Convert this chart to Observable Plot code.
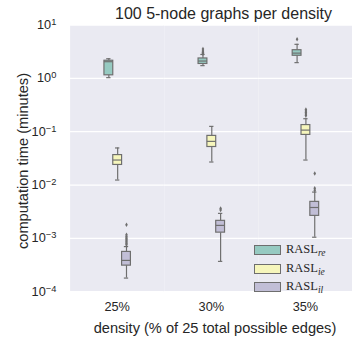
<!DOCTYPE html>
<html><head><meta charset="utf-8">
<script src="https://cdn.jsdelivr.net/npm/d3@7"></script>
<script src="https://cdn.jsdelivr.net/npm/@observablehq/plot@0.6"></script>
<style>
body{margin:0;background:#fff;}
#wrap{position:relative;width:352px;height:339px;overflow:hidden;font-family:"Liberation Sans",Arial,sans-serif;color:#262626;}
#wrap svg{display:block;}
.title{position:absolute;left:115px;width:200px;top:6px;text-align:center;font-size:16px;line-height:1;white-space:nowrap;}
.xlab{position:absolute;left:15px;width:400px;top:321px;text-align:center;font-size:14.6px;line-height:1;white-space:nowrap;}
.ylab{position:absolute;left:-177px;width:400px;top:153px;text-align:center;font-size:14.6px;line-height:16px;white-space:nowrap;transform:rotate(-90deg);}
.legend{position:absolute;left:254px;top:241px;}
.row{height:18.5px;display:flex;align-items:center;}
.sw{width:25px;height:8px;border:1px solid #6e6e6e;margin-right:5px;}
.lt{font-family:"Liberation Serif","Times New Roman",serif;font-size:12.5px;}
.lt sub{font-style:italic;font-size:9.5px;vertical-align:-3px;}
</style></head><body><div id="wrap"></div><script>
// categories
const densities = ["25%", "30%", "35%"];
const seriesKeys = ["re", "ie", "il"];
const seriesColors = ["#96cac1", "#f6f6bc", "#c1bed6"];
// five-number summaries per density: [whisker low, Q1, median, Q3, whisker high] (minutes)
const reStats = [[1.03, 1.14, 2.05, 2.14, 2.33], [1.73, 1.86, 2.11, 2.36, 2.8], [1.97, 2.65, 2.97, 3.37, 4.34]];
const ieStats = [[0.0124, 0.0238, 0.0294, 0.0364, 0.0495], [0.027, 0.0516, 0.0658, 0.0834, 0.1257], [0.0294, 0.087, 0.107, 0.133, 0.175]];
const ilStats = [[1.8e-4, 3.08e-4, 3.86e-4, 5.57e-4, 7.0e-4], [3.7e-4, 1.28e-3, 1.75e-3, 2.13e-3, 2.94e-3], [1.05e-3, 2.64e-3, 3.79e-3, 4.83e-3, 7.37e-3]];
// outliers per density
const reOut = [[], [2.9, 3.0, 3.1, 3.27, 3.56], [5.4]];
const ieOut = [[], [], [0.2, 0.215, 0.23, 0.245, 0.26]];
const ilOut = [[7.6e-4, 8.0e-4, 8.5e-4, 9.0e-4, 9.6e-4, 1.02e-3, 1.08e-3, 1.17e-3, 1.8e-3], [3.4e-3, 3.64e-3], [8.0e-3, 8.7e-3, 0.0165]];
// y tick values
const yTicks = [1e-4, 1e-3, 1e-2, 1e-1, 1, 10];

const statsBy = {re: reStats, ie: ieStats, il: ilStats};
const outBy = {re: reOut, ie: ieOut, il: ilOut};
const stats = [], outliers = [];
densities.forEach((d, i) => seriesKeys.forEach(s => {
  const a = statsBy[s][i];
  stats.push({density: d, series: s, lo: a[0], q1: a[1], med: a[2], q3: a[3], hi: a[4]});
  outBy[s][i].forEach(v => outliers.push({density: d, series: s, value: v}));
}));

const fmt = v => "10^" + Math.round(Math.log10(v));
const gray = "#6e6e6e";

const chart = Plot.plot({
  width: 359, height: 339,
  marginLeft: 71, marginRight: 0, marginTop: 25, marginBottom: 42,
  style: {fontFamily: "Liberation Sans, Arial, sans-serif", fontSize: "13px", color: "#262626", background: "white"},
  facet: {marginTop: 0, marginRight: 0, marginBottom: 0, marginLeft: 0},
  fx: {domain: densities, padding: 0, axis: "bottom", tickSize: 0, tickPadding: 10, label: null},
  x: {domain: seriesKeys, axis: null, paddingInner: 0.03, paddingOuter: 3.465},
  y: {type: "log", domain: [1e-4, 10], ticks: yTicks, tickFormat: fmt, tickSize: 0, tickPadding: 14, label: null},
  color: {domain: seriesKeys, range: seriesColors},
  marks: [
    Plot.frame({fill: "#eaeaf2", stroke: "none"}),
    Plot.ruleY(yTicks, {stroke: "white", strokeWidth: 1.3}),
    Plot.ruleX(stats, {fx: "density", x: "series", y1: "lo", y2: "q1", stroke: gray, strokeWidth: 1.2}),
    Plot.ruleX(stats, {fx: "density", x: "series", y1: "q3", y2: "hi", stroke: gray, strokeWidth: 1.2}),
    Plot.tickY(stats, {fx: "density", x: "series", y: "lo", stroke: gray, strokeWidth: 1.2, insetLeft: 2.3, insetRight: 2.3}),
    Plot.tickY(stats, {fx: "density", x: "series", y: "hi", stroke: gray, strokeWidth: 1.2, insetLeft: 2.3, insetRight: 2.3}),
    Plot.barY(stats, {fx: "density", x: "series", y1: "q1", y2: "q3", fill: "series", stroke: gray, strokeWidth: 1.2}),
    Plot.tickY(stats, {fx: "density", x: "series", y: "med", stroke: gray, strokeWidth: 1.2}),
    Plot.dot(outliers, {fx: "density", x: "series", y: "value", symbol: "diamond", r: 1.4, fill: gray, stroke: "none"})
  ]
});

// render "10^k" tick labels as 10 with a superscript exponent
const NS = "http://www.w3.org/2000/svg";
chart.querySelectorAll("text").forEach(t => {
  const s = t.textContent;
  if (!/^10\^-?\d$/.test(s)) return;
  const exp = s.split("^")[1].replace("-", "\u2212");
  t.textContent = "";
  const base = document.createElementNS(NS, "tspan");
  base.textContent = "10";
  const sp = document.createElementNS(NS, "tspan");
  sp.textContent = exp;
  sp.setAttribute("dy", "-0.45em");
  sp.setAttribute("font-size", "9.5px");
  t.appendChild(base); t.appendChild(sp);
});

const wrap = document.getElementById("wrap");
wrap.appendChild(chart);
const add = (cls, html) => { const e = document.createElement("div"); e.className = cls; e.innerHTML = html; wrap.appendChild(e); return e; };
add("title", "100 5-node graphs per density");
add("xlab", "density (% of 25 total possible edges)");
add("ylab", "computation time (minutes)");
const lg = add("legend", "");
seriesKeys.forEach((s, i) => {
  const r = document.createElement("div"); r.className = "row";
  r.innerHTML = `<span class="sw" style="background:${seriesColors[i]}"></span><span class="lt">RASL<sub>${s}</sub></span>`;
  lg.appendChild(r);
});
</script></body></html>
